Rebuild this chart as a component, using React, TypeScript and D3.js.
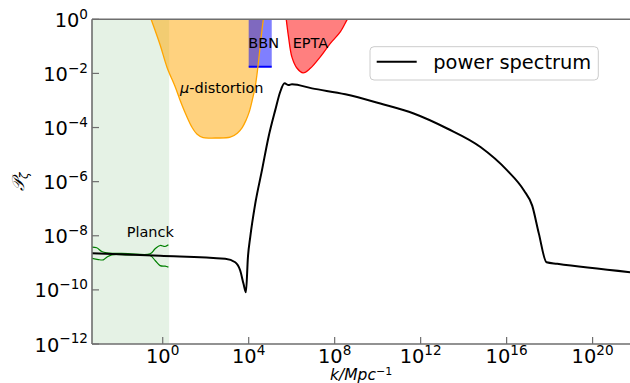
import * as d3 from 'd3';
import React from 'react';

// power spectrum curve
const specK = [5.1e-4, 0.76, 8.1e2, 2.36e3, 4.03e3, 5.74e3, 7.43e3, 9.2e3, 1.18e4, 2.01e4, 4.13e4, 8.38e4,
  1.72e5, 2.94e5, 4.66e5, 7.16e5, 1.03e6, 8.81e6, 3.13e8, 1.34e10, 4.75e11, 1.71e13, 6.07e14, 1.06e16,
  6.31e16, 1.55e17, 3.16e17, 7.19e17, 2.27e18, 5.9e21];
const specP = [2.27e-9, 1.82e-9, 1.41e-9, 1.05e-9, 5.2e-10, 1.67e-10, 8.1e-11, 1.6e-9, 8.9e-9, 1.5e-7, 2.6e-6, 4.5e-5,
  4.4e-4, 2.1e-3, 4.3e-3, 3.7e-3, 4.0e-3, 2.8e-3, 1.7e-3, 7.7e-4, 3.3e-4, 9.2e-5, 1.9e-5, 2.6e-6,
  4.8e-7, 1.3e-7, 1.2e-8, 1.05e-9, 9.2e-10, 4.5e-10];

// mu-distortion bound
const muK = [0.288, 0.76, 1.58, 3.8, 6.5, 12.3, 23.4, 40, 76, 275, 1.38e3, 2.95e3, 5.0e3, 7.6e3, 1.05e4,
  1.45e4, 2.0e4, 2.5e4, 3.1e4, 3.8e4, 4.8e4];
const muP = [1, 0.112, 0.017, 3.2e-3, 1.0e-3, 2.9e-4, 1.0e-4, 5.6e-5, 4.2e-5, 4.1e-5, 4.4e-5, 6.2e-5, 1.0e-4,
  1.9e-4, 3.7e-4, 1.0e-3, 3.2e-3, 0.011, 0.048, 0.22, 1];

// EPTA bound
const eptaK = [5.6e5, 7.1e5, 1.02e6, 1.78e6, 3.4e6, 7.4e6, 2.14e7, 6.3e7, 1.86e8, 3.7e8, 4.0e8];
const eptaP = [1, 0.23, 0.041, 0.0155, 0.0105, 0.0155, 0.041, 0.129, 0.35, 0.93, 1];

// BBN box
const bbnK = [1e4, 1.18e5];
const bbnP = 1.78e-2;

// Planck
const planckKmax = 2.0;
const planckUpK = [5.0e-4, 8.5e-4, 1.46e-3, 2.49e-3, 0.0244, 0.259, 0.443, 0.757, 1.29, 1.84];
const planckUpP = [3.79e-9, 3.6e-9, 2.62e-9, 2.34e-9, 2.21e-9, 2.15e-9, 3.3e-9, 4.38e-9, 4.02e-9, 4.65e-9];
const planckLoK = [5.0e-4, 1.01e-3, 1.73e-3, 2.49e-3, 4.26e-3, 0.0244, 0.259, 0.443, 0.757, 1.29, 1.84];
const planckLoP = [1.48e-9, 1.32e-9, 1.29e-9, 1.61e-9, 1.98e-9, 1.95e-9, 1.86e-9, 1.22e-9, 7.9e-10, 7.5e-10, 6.9e-10];

const xTicks = [0, 4, 8, 12, 16, 20];
const yTicks = [0, -2, -4, -6, -8, -10, -12];

const zip = (ks: number[], ps: number[]) => ks.map((k, i) => [k, ps[i]] as [number, number]);

export default function App() {
  const width = 630;
  const height = 383;
  const left = 92, right = 630, top = 19.3, bottom = 344;

  const x = d3.scaleLog().domain([10 ** -3.29, 10 ** 21.74]).range([left, right]);
  const y = d3.scaleLog().domain([1e-12, 1]).range([bottom, top]);

  const specPath = d3.line<[number, number]>().x(d => x(d[0])).y(d => y(d[1])).curve(d3.curveMonotoneX)(zip(specK, specP));
  const cr = d3.line<[number, number]>().x(d => x(d[0])).y(d => y(d[1])).curve(d3.curveCatmullRom);
  const muPath = cr(zip(muK, muP));
  const eptaPath = cr(zip(eptaK, eptaP));
  const upPath = cr(zip(planckUpK, planckUpP));
  const loPath = cr(zip(planckLoK, planckLoP));

  const font = 'DejaVu Sans, sans-serif';
  const axisColor = '#6e6e6e';

  return (
    <svg width={width} height={height} style={{ position: 'absolute', left: 0, top: 0 }} fontFamily={font}>
      <defs>
        <clipPath id="plot">
          <rect x={left} y={top} width={right - left} height={bottom - top} />
        </clipPath>
      </defs>
      <g clipPath="url(#plot)">
        {/* Planck region */}
        <rect x={left} y={top} width={x(planckKmax) - left} height={bottom - top} fill="green" fillOpacity={0.1} />
        {/* mu-distortion */}
        <path d={muPath + 'Z'} fill="orange" fillOpacity={0.5} />
        {/* BBN */}
        <rect x={x(bbnK[0])} y={top} width={x(bbnK[1]) - x(bbnK[0])} height={y(bbnP) - top} fill="blue" fillOpacity={0.5} />
        <line x1={x(bbnK[0])} x2={x(bbnK[1])} y1={y(bbnP)} y2={y(bbnP)} stroke="blue" strokeWidth={2} />
        <path d={muPath!} fill="none" stroke="orange" strokeWidth={1.3} />
        {/* EPTA */}
        <path d={eptaPath + 'Z'} fill="red" fillOpacity={0.5} />
        <path d={eptaPath!} fill="none" stroke="red" strokeWidth={1.3} />
        {/* Planck data */}
        <path d={upPath!} fill="none" stroke="green" strokeWidth={1.2} />
        <path d={loPath!} fill="none" stroke="green" strokeWidth={1.2} />
        {/* spectrum */}
        <path d={specPath!} fill="none" stroke="black" strokeWidth={2} strokeLinejoin="round" />
      </g>

      {/* region labels */}
      <text x={180} y={92.5} fontSize={14.5}><tspan fontStyle="italic">μ</tspan>-distortion</text>
      <text x={248.3} y={47.5} fontSize={14.5}>BBN</text>
      <text x={292.7} y={47.5} fontSize={14.5}>EPTA</text>
      <text x={126.7} y={236.7} fontSize={14.5}>Planck</text>

      {/* spines */}
      <line x1={left} x2={left} y1={top} y2={bottom} stroke={axisColor} strokeWidth={1.6} />
      <line x1={left} x2={right} y1={bottom} y2={bottom} stroke={axisColor} strokeWidth={1.6} />
      <line x1={left} x2={right} y1={top} y2={top} stroke={axisColor} strokeWidth={1.6} />

      {xTicks.map(e => (
        <g key={'x' + e}>
          <line x1={x(10 ** e)} x2={x(10 ** e)} y1={bottom} y2={bottom - 7} stroke={axisColor} strokeWidth={1.2} />
          <text x={x(10 ** e)} y={bottom + 19} fontSize={19.4} textAnchor="middle">
            10<tspan dy={-8.3} fontSize={13.6}>{e}</tspan>
          </text>
        </g>
      ))}
      {yTicks.map(e => (
        <g key={'y' + e}>
          <line x1={left} x2={left + 7} y1={y(10 ** e)} y2={y(10 ** e)} stroke={axisColor} strokeWidth={1.2} />
          <text x={88} y={y(10 ** e) + 7.5} fontSize={19.4} textAnchor="end">
            10<tspan dy={-8.3} fontSize={13.6}>{e < 0 ? '\u2212' + -e : e}</tspan>
          </text>
        </g>
      ))}

      {/* axis labels */}
      <text x={330} y={380} fontSize={15.5} fontStyle="italic">
        k/Mpc<tspan dy={-5} fontSize={11} fontStyle="normal">{'\u22121'}</tspan>
      </text>
      <text transform="translate(24,181.7) rotate(-90)" textAnchor="middle" fontSize={17}>
        <tspan fontStyle="italic">𝒫</tspan><tspan dy={4} fontSize={12} fontStyle="italic">ζ</tspan>
      </text>

      {/* legend */}
      <rect x={370} y={46.7} width={228.3} height={33.3} rx={4} fill="white" fillOpacity={0.8} stroke="#cccccc" strokeWidth={1} />
      <line x1={376.7} x2={416.7} y1={61.7} y2={61.7} stroke="black" strokeWidth={2} />
      <text x={433.3} y={68.6} fontSize={19.4}>power spectrum</text>
    </svg>
  );
}
